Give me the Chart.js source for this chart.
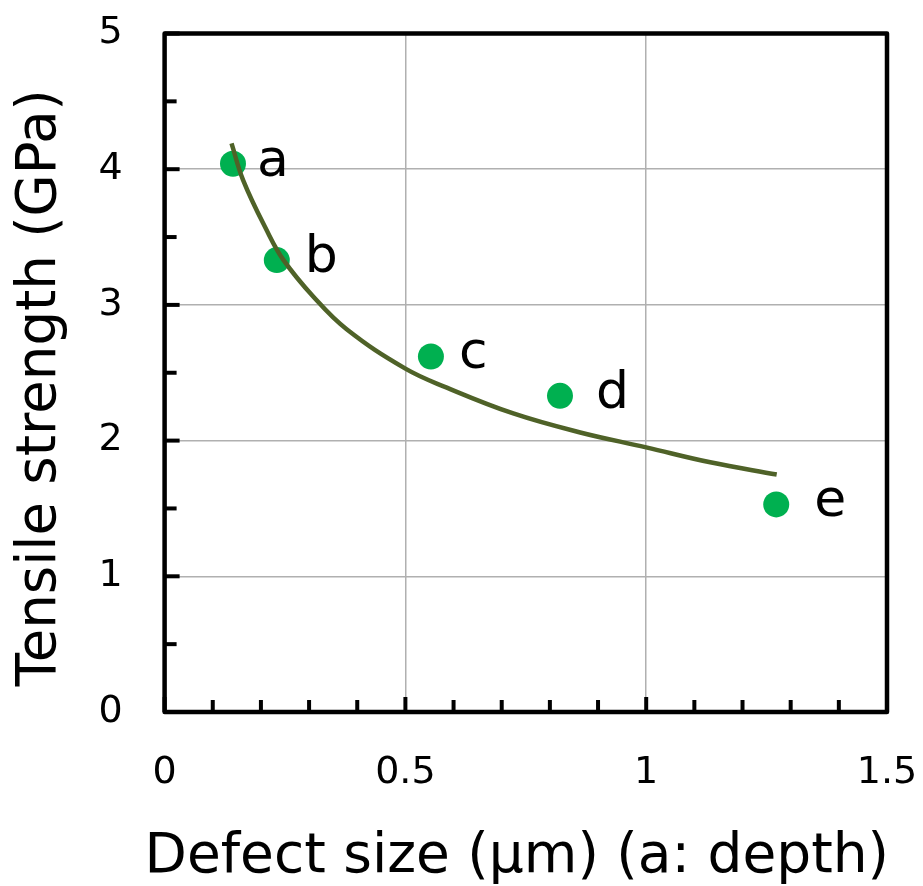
<!DOCTYPE html>
<html>
<head>
<meta charset="utf-8">
<script src="https://cdn.jsdelivr.net/npm/chart.js@4/dist/chart.umd.min.js"></script>
<style>
html,body{margin:0;padding:0;background:#fff;}
#wrap{width:923px;height:886px;position:relative;}
</style>
</head>
<body>
<div id="wrap"><canvas id="c"></canvas></div>
<script>
// ---- data ----
const pointLabels = ['a', 'b', 'c', 'd', 'e'];
const defectSize = [0.142, 0.233, 0.553, 0.821, 1.270];
const tensileStrength = [4.04, 3.33, 2.62, 2.33, 1.53];
const fitDefectSize = [0.139, 0.163, 0.212, 0.247, 0.309, 0.378, 0.500, 0.586, 0.724, 0.863, 1.000, 1.133, 1.271];
const fitStrength = [4.19, 3.92, 3.55, 3.33, 3.06, 2.82, 2.53, 2.39, 2.20, 2.06, 1.95, 1.84, 1.75];
const xTickLabels = ['0', '0.5', '1', '1.5'];
const yTickLabels = ['0', '1', '2', '3', '4', '5'];
const xTitle = 'Defect size (μm) (a: depth)';
const yTitle = 'Tensile strength (GPa)';

const FONT = "'DejaVu Sans', sans-serif";
const isMult = (v, step) => { const k = v / step; return Math.abs(k - Math.round(k)) < 1e-6; };

const frameAndTicks = {
  id: 'frameAndTicks',
  afterDatasetsDraw(chart) {
    const {ctx, chartArea: a, scales: {x, y}} = chart;
    ctx.save();
    ctx.strokeStyle = '#000';
    ctx.lineWidth = 4;
    ctx.lineCap = 'butt';
    x.ticks.forEach(t => {
      const px = x.getPixelForValue(t.value);
      const len = isMult(t.value, 0.5) ? 15 : 12;
      ctx.beginPath(); ctx.moveTo(px, a.bottom); ctx.lineTo(px, a.bottom - len); ctx.stroke();
    });
    y.ticks.forEach(t => {
      const py = y.getPixelForValue(t.value);
      const len = isMult(t.value, 1) ? 15 : 12;
      ctx.beginPath(); ctx.moveTo(a.left, py); ctx.lineTo(a.left + len, py); ctx.stroke();
    });
    ctx.lineWidth = 4.5;
    ctx.lineJoin = 'round';
    ctx.strokeRect(a.left, a.top, a.right - a.left, a.bottom - a.top);
    ctx.restore();
  }
};

const letterLabels = {
  id: 'letterLabels',
  afterDatasetsDraw(chart, args, opts) {
    const {ctx} = chart;
    const meta = chart.getDatasetMeta(0);
    ctx.save();
    ctx.fillStyle = '#000';
    ctx.font = opts.size + 'px ' + FONT;
    ctx.textAlign = 'left';
    ctx.textBaseline = 'alphabetic';
    meta.data.forEach((el, i) => {
      ctx.fillText(pointLabels[i], el.x + opts.dx[i], el.y + opts.dy);
    });
    ctx.restore();
  }
};

// axis titles, placed relative to the chart area
const axisTitles = {
  id: 'axisTitles',
  afterDraw(chart, args, opts) {
    const {ctx, chartArea: a} = chart;
    ctx.save();
    ctx.fillStyle = '#000';
    ctx.textAlign = 'center';
    ctx.textBaseline = 'middle';
    ctx.font = opts.xSize + 'px ' + FONT;
    ctx.fillText(xTitle, (a.left + a.right) / 2 + opts.xShift, chart.height - opts.xFromBottom);
    ctx.translate(opts.yFromLeft, (a.top + a.bottom) / 2 + opts.yShift);
    ctx.rotate(-Math.PI / 2);
    ctx.font = opts.ySize + 'px ' + FONT;
    ctx.fillText(yTitle, 0, 0);
    ctx.restore();
  }
};

new Chart(document.getElementById('c'), {
  type: 'scatter',
  data: {
    datasets: [
      {
        label: 'measured',
        data: defectSize.map((v, i) => ({x: v, y: tensileStrength[i]})),
        backgroundColor: '#00b050',
        borderWidth: 0,
        pointRadius: 13,
        pointHoverRadius: 13,
        order: 2
      },
      {
        label: 'fit',
        data: fitDefectSize.map((v, i) => ({x: v, y: fitStrength[i]})),
        showLine: true,
        borderColor: '#4f6228',
        borderWidth: 4.5,
        pointRadius: 0,
        tension: 0.4,
        fill: false,
        order: 1
      }
    ]
  },
  options: {
    responsive: true,
    maintainAspectRatio: false,
    animation: false,
    events: [],
    layout: {padding: {left: 0, top: 33.5, right: 36, bottom: 0}},
    plugins: {
      legend: {display: false},
      tooltip: {enabled: false},
      letterLabels: {size: 52, dx: [24, 28, 28, 36, 38], dy: 12},
      axisTitles: {xSize: 55, xShift: -9, xFromBottom: 28, ySize: 54.5, yShift: 15, yFromLeft: 41}
    },
    scales: {
      x: {
        type: 'linear',
        min: 0, max: 1.5,
        afterFit(s) { s.height = 886 - 712; },
        border: {display: false},
        grid: {
          drawTicks: true,
          tickLength: 38,
          tickColor: 'rgba(0,0,0,0)',
          lineWidth: 1.5,
          color: c => (c.tick && isMult(c.tick.value, 0.5)) ? '#b0b0b0' : 'rgba(0,0,0,0)'
        },
        ticks: {
          stepSize: 0.1,
          autoSkip: false,
          maxRotation: 0,
          padding: 0,
          color: '#000',
          font: {family: FONT, size: 38},
          callback: v => isMult(v, 0.5) ? xTickLabels[Math.round(v / 0.5)] : ''
        },
        title: {display: false}
      },
      y: {
        type: 'linear',
        min: 0, max: 5,
        afterFit(s) { s.width = 164.6; },
        border: {display: false},
        grid: {
          drawTicks: true,
          tickLength: 42,
          tickColor: 'rgba(0,0,0,0)',
          lineWidth: 1.5,
          color: c => (c.tick && isMult(c.tick.value, 1)) ? '#b0b0b0' : 'rgba(0,0,0,0)'
        },
        ticks: {
          stepSize: 0.5,
          autoSkip: false,
          padding: 0,
          color: '#000',
          font: {family: FONT, size: 38},
          callback: v => isMult(v, 1) ? yTickLabels[Math.round(v)] : ''
        },
        title: {display: false}
      }
    }
  },
  plugins: [frameAndTicks, letterLabels, axisTitles]
});
</script>
</body>
</html>
